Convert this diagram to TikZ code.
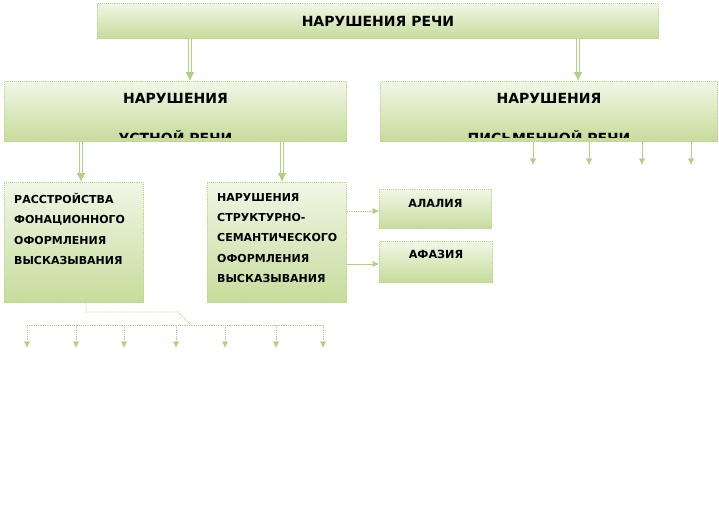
\documentclass[tikz,border=0pt]{standalone}
\usepackage{fontspec}
\setmainfont{DejaVu Sans}
\usetikzlibrary{arrows.meta,positioning}

\definecolor{edgegreen}{RGB}{185,215,140}
\definecolor{fillgreen}{RGB}{198,220,155}
\definecolor{arrgreen}{RGB}{175,210,130}

\begin{document}
\begin{tikzpicture}[x=1pt,y=-1pt,
	    box/.style={draw=edgegreen, densely dotted, line width=0.9pt,
	        top color=fillgreen!25, bottom color=fillgreen,
	        anchor=north west, inner sep=0pt},
	    head/.style={font=\bfseries\fontsize{14}{16}\selectfont},
	    lab/.style={font=\bfseries\fontsize{11.2}{13}\selectfont},
	    small/.style={font=\bfseries\fontsize{11}{20.3}\selectfont,
	        align=left, anchor=north west, inner sep=0pt},
	    link/.style={draw=arrgreen, line width=0.8pt, -{Latex[length=6.5pt,width=6.5pt]}},
	    dlink/.style={link, densely dotted},
	    tree/.style={draw=arrgreen, line width=0.8pt, densely dotted},
	    trunk/.style={draw=arrgreen, line width=1pt, double=white,
	        double distance=1.6pt, -{Latex[length=9pt,width=9pt]}}]

		\fill[white] (0,0) rectangle (719,523);

		% Blocks
		\node [box, minimum width=561pt, minimum height=35pt] (top) at (97,3) {};
		\node [head] (toptxt) at (top.center) {НАРУШЕНИЯ РЕЧИ};
		\node [box, minimum width=342pt, minimum height=60pt] (ustn) at (4,81) {};
		\node [box, minimum width=337pt, minimum height=60pt] (pism) at (380,81) {};
		\node [box, minimum width=139pt, minimum height=120pt] (rass) at (4,182) {};
		\node [box, minimum width=139pt, minimum height=120pt] (strk) at (207,182) {};
		\node [box, minimum width=112pt, minimum height=39pt] (alal) at (379,189) {};
		\node [box, minimum width=113pt, minimum height=41pt] (afaz) at (379,241) {};

		% Labels
		\node [head] (ustn1) at ([yshift=-17pt]ustn.north) {НАРУШЕНИЯ};
		\node [head] (pism1) at ([yshift=-17pt]pism.north) {НАРУШЕНИЯ};
		\begin{scope}
		    \clip (ustn.north west) rectangle ([yshift=4pt]ustn.south east);
		    \node [head, anchor=base] (ustn2) at ([yshift=-1.5pt]ustn.south) {УСТНОЙ РЕЧИ};
		\end{scope}
		\begin{scope}
		    \clip (pism.north west) rectangle ([yshift=4pt]pism.south east);
		    \node [head, anchor=base] (pism2) at ([yshift=-1.5pt]pism.south) {ПИСЬМЕННОЙ РЕЧИ};
		\end{scope}
		\node [small] (rasstxt) at ([shift={(10pt,-11pt)}]rass.north west)
		    {РАССТРОЙСТВА\\ФОНАЦИОННОГО\\ОФОРМЛЕНИЯ\\ВЫСКАЗЫВАНИЯ};
		\node [small] (strktxt) at ([shift={(10pt,-11pt)}]strk.north west)
		    {НАРУШЕНИЯ\\СТРУКТУРНО-\\СЕМАНТИЧЕСКОГО\\ОФОРМЛЕНИЯ\\ВЫСКАЗЫВАНИЯ};
		\node [lab] (alaltxt) at ([yshift=-14pt]alal.north) {АЛАЛИЯ};
		\node [lab] (afaztxt) at ([yshift=-13.5pt]afaz.north) {АФАЗИЯ};

		% Arrows
		\coordinate (u1) at (190,0);
		\coordinate (u2) at (578,0);
		\coordinate (r1) at (81,0);
		\coordinate (r2) at (282,0);
		\draw [trunk] (top.south -| u1) -- (ustn.north -| u1);
		\draw [trunk] (top.south -| u2) -- (pism.north -| u2);
		\draw [trunk] (ustn.south -| r1) -- (rass.north -| r1);
		\draw [trunk] (ustn.south -| r2) -- (strk.north -| r2);

		\coordinate (s1) at (0,211);
		\coordinate (s2) at (0,264);
		\draw [dlink] (strk.east |- s1) -- (alal.west |- s1);
		\draw [link] (strk.east |- s2) -- (afaz.west |- s2);

		\foreach \x [count=\i] in {533,589,642,691}{
		    \coordinate (p\i) at (\x,165);
		    \draw [link] (pism.south -| p\i) -- (p\i);
		}

		\coordinate (k1) at (86,312);
		\coordinate (k2) at (178,312);
		\coordinate (k3) at (191,325);
		\coordinate (bl) at (27,325);
		\coordinate (br) at (323,325);
		\draw [tree] (rass.south -| k1) -- (k1) -- (k2) -- (k3);
		\draw [tree] (bl) -- (br);
		\foreach \x [count=\i] in {27,76,124,176,225,276,323}{
		    \coordinate (b\i) at (\x,348);
		    \draw [dlink] (b\i |- bl) -- (b\i);
		}

	\end{tikzpicture}
\end{document}
